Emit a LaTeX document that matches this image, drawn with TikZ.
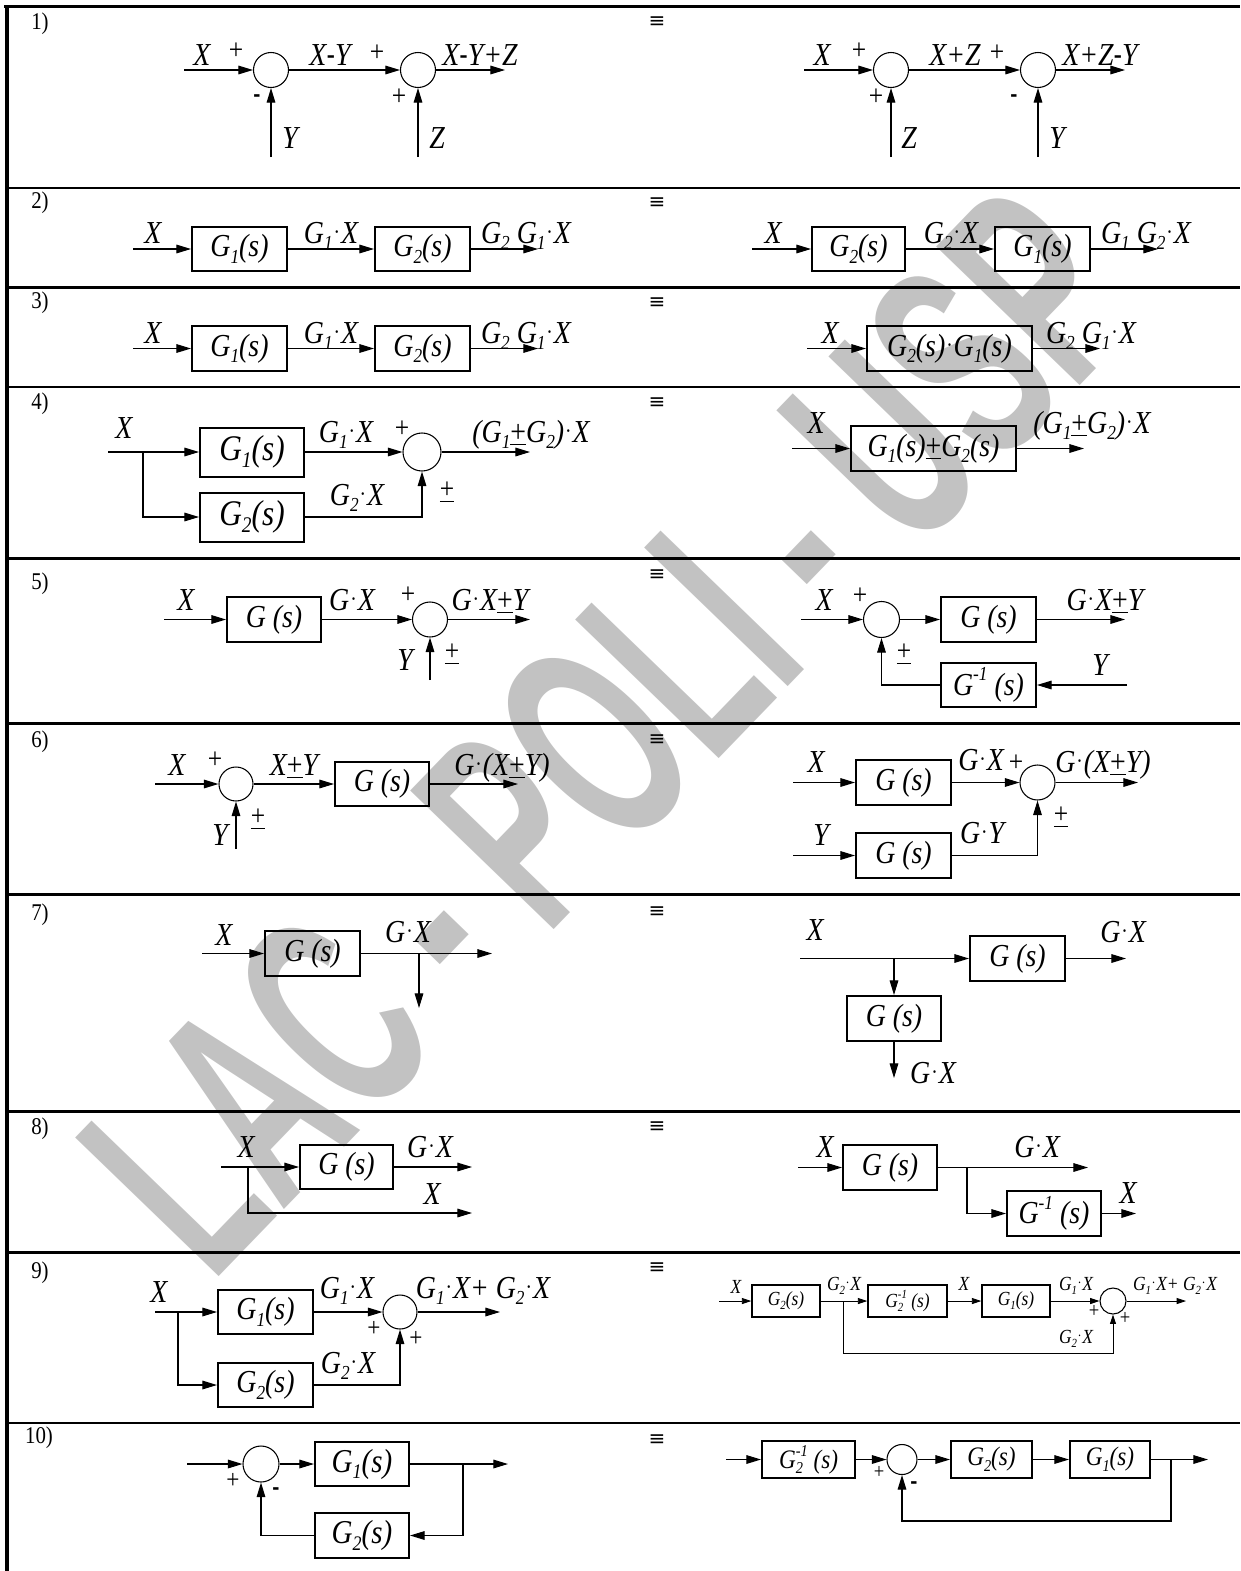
\documentclass[tikz,border=0pt]{standalone}
\usepackage{fontspec}
\setmainfont{Liberation Serif}[FakeStretch=0.87]
\setsansfont{Liberation Sans}
\newfontfamily\dejavu{DejaVu Sans}
\newfontfamily\wmfont{Liberation Sans}
\usetikzlibrary{arrows.meta}
\newcommand\fs[1]{\fontsize{#1}{#1}\selectfont}
\newcommand\Sd[1]{\raisebox{-0.2em}{\scalebox{0.62}{#1}}}
\newcommand\Su[1]{\raisebox{0.45em}{\scalebox{0.62}{#1}}}
\newcommand\SdSu[2]{\rlap{\Sd{#1}}\Su{#2}}
\newcommand\Dt{\kern0.03em\raisebox{0.12em}{\scalebox{0.7}{\upshape ·}}\kern0.03em}
\newcommand\Pm{\underline{\upshape +}}
\newcommand\Hy{\scalebox{0.8}[1]{\sffamily\upshape -}}
\tikzset{
 lb/.style={anchor=base, inner sep=0pt, font=\fs{24}\itshape},
 lbs/.style={anchor=base, inner sep=0pt, font=\fs{15}\itshape},
 sg/.style={anchor=center, inner sep=0pt, font=\fs{22}\upshape},
 sgs/.style={anchor=center, inner sep=0pt, font=\fs{16}\upshape},
 mn/.style={anchor=center, inner sep=0pt, font=\fs{16}\sffamily\bfseries},
 num/.style={anchor=center, inner sep=0pt, font=\fs{18}\upshape},
 eqv/.style={anchor=center, inner sep=0pt, font=\fs{15}\dejavu},
 bx/.style 2 args={draw, line width=1.5pt, minimum width=#1*0.75pt, minimum height=#2*0.75pt, inner sep=0pt, font=\fs{24}\itshape},
 sum/.style={circle, draw, line width=0.8pt, minimum size=#1*1.5pt, inner sep=0pt},
 arr/.style={line width=0.8pt, -{Triangle[length=11pt,width=6.5pt]}},
 arrs/.style={line width=0.6pt, -{Triangle[length=7pt,width=4.5pt]}},
 ln/.style={line width=0.8pt},
 rule/.style={line width=1.9pt},
}
\begin{document}
\begin{tikzpicture}[x=0.75pt,y=-0.75pt]
\useasboundingbox (0,0) rectangle (1240,1571);
% watermark
\node[rotate=46, text=black!24, font=\fs{150}\wmfont\bfseries, inner sep=0pt] (wm) at (608,730) {\scalebox{0.82}[1.45]{LAC - POLI - USP}};
% table
\draw[line width=2.4pt] (4,6.5) -- (1240,6.5);
\draw[line width=3pt] (6.5,5) -- (6.5,1571);
\foreach \yy in {188,287.5,387,558.5,723.5,894.5,1111.5,1252.5,1423}
  \draw[rule] (6.5,\yy) -- (1240,\yy);
% numbers and equivalences
\node[num] (n1) at (40,24) {1)};
\node[num] (n2) at (40,203) {2)};
\node[num] (n3) at (40,303) {3)};
\node[num] (n4) at (40,404) {4)};
\node[num] (n5) at (40,584) {5)};
\node[num] (n6) at (40,742) {6)};
\node[num] (n7) at (40,915) {7)};
\node[num] (n8) at (40,1129) {8)};
\node[num] (n9) at (40,1273) {9)};
\node[num] (n10) at (39,1438) {10)};
\foreach \yy/\nm in {22/e1,203/e2,303/e3,403/e4,575/e5,740/e6,912/e7,1127/e8,1268/e9,1440/e10}
  \node[eqv] (\nm) at (657,\yy) {≡};

% ---------- 1) ----------
\node[sum=17.5] (s1a) at (271,70) {};
\node[sum=17.5] (s1b) at (418,70) {};
\coordinate (i1a) at (184,70); \coordinate (o1a) at (505,70);
\coordinate (y1a) at (271,157); \coordinate (z1a) at (418,157);
\draw[arr] (i1a) -- (s1a);
\draw[arr] (s1a) -- (s1b);
\draw[arr] (s1b) -- (o1a);
\draw[arr] (y1a) -- (s1a);
\draw[arr] (z1a) -- (s1b);
\node[lb] (t1a) at (202,65) {X};
\node[sg] (p1a) at (236,51) {+};
\node[lb] (t1b) at (330,65) {X\Hy Y};
\node[sg] (p1b) at (377,53) {+};
\node[lb] (t1c) at (480,65) {X\Hy Y+Z};
\node[mn] (m1a) at (257,98) {-};
\node[lb] (t1d) at (290,148) {Y};
\node[sg] (p1c) at (399,97) {+};
\node[lb] (t1e) at (437,148) {Z};
\node[sum=17.5] (s1c) at (891,70) {};
\node[sum=17.5] (s1d) at (1038,70) {};
\coordinate (i1b) at (804,70); \coordinate (o1b) at (1125,70);
\coordinate (z1b) at (891,157); \coordinate (y1b) at (1038,157);
\draw[arr] (i1b) -- (s1c);
\draw[arr] (s1c) -- (s1d);
\draw[arr] (s1d) -- (o1b);
\draw[arr] (z1b) -- (s1c);
\draw[arr] (y1b) -- (s1d);
\node[lb] (t1f) at (822,65) {X};
\node[sg] (p1d) at (859,51) {+};
\node[lb] (t1g) at (955,65) {X+Z};
\node[sg] (p1e) at (997,53) {+};
\node[lb] (t1h) at (1100,65) {X+Z\Hy Y};
\node[sg] (p1f) at (876,97) {+};
\node[lb] (t1i) at (909,148) {Z};
\node[mn] (m1b) at (1014,98) {-};
\node[lb] (t1j) at (1057,148) {Y};

% ---------- 2) ----------
\node[bx={95}{44}] (a2) at (239.5,249) {G\Sd{1}(s)};
\node[bx={95}{44}] (b2) at (422.5,249) {G\Sd{2}(s)};
\coordinate (i2a) at (133,249); \coordinate (o2a) at (538,249);
\draw[arr] (i2a) -- (a2.west);
\draw[arr] (a2) -- (b2);
\draw[arr] (b2.east) -- (o2a);
\node[lb] (t2a) at (153,243) {X};
\node[lb] (t2b) at (331,243) {G\Sd{1}\Dt X};
\node[lb] (t2c) at (526,243) {G\Sd{2} G\Sd{1}\Dt X};
\node[bx={93}{44}] (c2) at (858.5,249) {G\Sd{2}(s)};
\node[bx={95}{44}] (d2) at (1042.5,249) {G\Sd{1}(s)};
\coordinate (i2b) at (752,249); \coordinate (o2b) at (1158,249);
\draw[arr] (i2b) -- (c2.west);
\draw[arr] (c2) -- (d2);
\draw[arr] (d2.east) -- (o2b);
\node[lb] (t2d) at (773,243) {X};
\node[lb] (t2e) at (951,243) {G\Sd{2}\Dt X};
\node[lb] (t2f) at (1146,243) {G\Sd{1} G\Sd{2}\Dt X};

% ---------- 3) ----------
\node[bx={95}{45}] (a3) at (239.5,348.5) {G\Sd{1}(s)};
\node[bx={95}{45}] (b3) at (422.5,348.5) {G\Sd{2}(s)};
\coordinate (i3a) at (133,348.5); \coordinate (o3a) at (538,348.5);
\draw[arr] (i3a) -- (a3.west);
\draw[arr] (a3) -- (b3);
\draw[arr] (b3.east) -- (o3a);
\node[lb] (t3a) at (153,343) {X};
\node[lb] (t3b) at (331,343) {G\Sd{1}\Dt X};
\node[lb] (t3c) at (526,343) {G\Sd{2} G\Sd{1}\Dt X};
\node[bx={165}{45}] (c3) at (949.5,348.5) {G\Sd{2}(s)\Dt G\Sd{1}(s)};
\coordinate (i3b) at (807,348.5); \coordinate (o3b) at (1100,348.5);
\draw[arr] (i3b) -- (c3.west);
\draw[arr] (c3.east) -- (o3b);
\node[lb] (t3d) at (830,343) {X};
\node[lb] (t3e) at (1091,343) {G\Sd{2} G\Sd{1}\Dt X};

% ---------- 4) ----------
\node[bx={104}{49}, font=\fs{27}\itshape] (a4) at (252,452) {G\Sd{1}(s)};
\node[bx={104}{49}, font=\fs{27}\itshape] (b4) at (252,517) {G\Sd{2}(s)};
\node[sum=19] (s4) at (422,452) {};
\coordinate (i4) at (108,452); \coordinate (j4) at (143,452); \coordinate (o4) at (530,452);
\draw[arr] (i4) -- (a4.west);
\draw[arr] (j4) |- (b4.west);
\draw[arr] (a4) -- (s4);
\draw[arr] (s4) -- (o4);
\draw[arr] (b4.east) -| (s4.south);
\node[lb] (t4a) at (124,438) {X};
\node[lb] (t4b) at (346,442) {G\Sd{1}\Dt X};
\node[sg] (p4a) at (402,429) {+};
\node[lb] (t4c) at (531,442) {(G\Sd{1}\Pm G\Sd{2})\Dt X};
\node[lb] (t4d) at (357,505) {G\Sd{2}\Dt X};
\node[sg] (p4b) at (447,492) {\Pm};
\node[bx={165}{45}] (c4) at (933.5,448.5) {G\Sd{1}(s)\Pm G\Sd{2}(s)};
\coordinate (i4b) at (792,448.5); \coordinate (o4b) at (1084,448.5);
\draw[arr] (i4b) -- (c4.west);
\draw[arr] (c4.east) -- (o4b);
\node[lb] (t4e) at (816,433) {X};
\node[lb] (t4f) at (1092,433) {(G\Sd{1}\Pm G\Sd{2})\Dt X};

% ---------- 5) ----------
\node[bx={94}{45}] (a5) at (274,619.5) {G (s)};
\node[sum=17.5] (s5a) at (430,619.5) {};
\coordinate (i5a) at (164,619.5); \coordinate (o5a) at (530,619.5); \coordinate (y5a) at (430,680);
\draw[arr] (i5a) -- (a5.west);
\draw[arr] (a5) -- (s5a);
\draw[arr] (s5a) -- (o5a);
\draw[arr] (y5a) -- (s5a);
\node[lb] (t5a) at (186,610) {X};
\node[lb] (t5b) at (352,610) {G\Dt X};
\node[sg] (p5a) at (408,595) {+};
\node[lb] (t5c) at (490,610) {G\Dt X\Pm Y};
\node[lb] (t5d) at (405,670) {Y};
\node[sg] (p5b) at (452,654) {\Pm};
\node[sum=18] (s5b) at (881.5,619.5) {};
\node[bx={95}{45}] (c5) at (988.5,619.5) {G (s)};
\node[bx={95}{44}] (d5) at (988.5,685) {G\Su{-1} (s)};
\coordinate (i5b) at (801,619.5); \coordinate (o5b) at (1125,619.5); \coordinate (y5b) at (1127,685);
\draw[arr] (i5b) -- (s5b);
\draw[arr] (s5b) -- (c5);
\draw[arr] (c5.east) -- (o5b);
\draw[arr] (y5b) -- (d5.east);
\draw[arr] (d5.west) -| (s5b.south);
\node[lb] (t5e) at (824,610) {X};
\node[sg] (p5c) at (860,596) {+};
\node[lb] (t5f) at (1105,610) {G\Dt X\Pm Y};
\node[lb] (t5g) at (1100,675) {Y};
\node[sg] (p5d) at (904,654) {\Pm};

% ---------- 6) ----------
\node[sum=17] (s6a) at (236,784) {};
\node[bx={94}{44}] (a6) at (382,784) {G (s)};
\coordinate (i6a) at (155,784); \coordinate (o6a) at (518,784); \coordinate (y6a) at (236,849);
\draw[arr] (i6a) -- (s6a);
\draw[arr] (s6a) -- (a6);
\draw[arr] (a6.east) -- (o6a);
\draw[arr] (y6a) -- (s6a);
\node[lb] (t6a) at (177,775) {X};
\node[sg] (p6a) at (215,760) {+};
\node[lb] (t6b) at (294,775) {X\Pm Y};
\node[lb] (t6c) at (502,775) {G\Dt(X\Pm Y)};
\node[lb] (t6d) at (220,845) {Y};
\node[sg] (p6b) at (258,819) {\Pm};
\node[bx={95}{45}] (c6) at (903.5,782.5) {G (s)};
\node[bx={95}{45}] (d6) at (903.5,855.5) {G (s)};
\node[sum=17.5] (s6b) at (1037.5,782.5) {};
\coordinate (i6b) at (793,782.5); \coordinate (i6c) at (793,855.5); \coordinate (o6b) at (1138,782.5);
\draw[arr] (i6b) -- (c6.west);
\draw[arr] (i6c) -- (d6.west);
\draw[arr] (c6) -- (s6b);
\draw[arr] (s6b) -- (o6b);
\draw[arr] (d6.east) -| (s6b.south);
\node[lb] (t6e) at (816,772) {X};
\node[lb] (t6f) at (981,770) {G\Dt X};
\node[sg] (p6c) at (1016,763) {+};
\node[lb] (t6g) at (1103,772) {G\Dt(X\Pm Y)};
\node[lb] (t6h) at (821,845) {Y};
\node[lb] (t6i) at (982,843) {G\Dt Y};
\node[sg] (p6d) at (1061,817) {\Pm};

% ---------- 7) ----------
\node[bx={95}{45}] (a7) at (312.5,953.5) {G (s)};
\coordinate (i7a) at (202,953.5); \coordinate (o7a) at (492,953.5);
\coordinate (j7a) at (419,953.5); \coordinate (e7a) at (419,1008);
\draw[arr] (i7a) -- (a7.west);
\draw[arr] (a7.east) -- (o7a);
\draw[arr] (j7a) -- (e7a);
\node[lb] (t7a) at (224,945) {X};
\node[lb] (t7b) at (408,942) {G\Dt X};
\node[bx={95}{45}] (c7) at (1017.5,958.5) {G (s)};
\node[bx={94}{45}] (d7) at (894,1018.5) {G (s)};
\coordinate (i7b) at (800,958.5); \coordinate (j7b) at (894,958.5);
\coordinate (o7b) at (1126,958.5); \coordinate (e7b) at (894,1078);
\draw[arr] (i7b) -- (c7.west);
\draw[arr] (c7.east) -- (o7b);
\draw[arr] (j7b) -- (d7.north);
\draw[arr] (d7.south) -- (e7b);
\node[lb] (t7c) at (815,940) {X};
\node[lb] (t7d) at (1123,942) {G\Dt X};
\node[lb] (t7e) at (933,1083) {G\Dt X};

% ---------- 8) ----------
\node[bx={93}{44}] (a8) at (346.5,1167) {G (s)};
\coordinate (i8a) at (221,1167); \coordinate (j8a) at (248,1167);
\coordinate (o8a) at (472,1167); \coordinate (o8b) at (472,1213);
\draw[arr] (i8a) -- (a8.west);
\draw[arr] (a8.east) -- (o8a);
\draw[arr] (j8a) |- (o8b);
\node[lb] (t8a) at (246,1157) {X};
\node[lb] (t8b) at (430,1157) {G\Dt X};
\node[lb] (t8c) at (432,1204) {X};
\node[bx={94}{45}] (c8) at (890,1167.5) {G (s)};
\node[bx={94}{45}] (d8) at (1054,1213.5) {G\Su{-1} (s)};
\coordinate (i8b) at (798,1167.5); \coordinate (j8b) at (967,1167.5);
\coordinate (o8c) at (1088,1167.5); \coordinate (o8d) at (1136,1213.5);
\draw[arr] (i8b) -- (c8.west);
\draw[arr] (c8.east) -- (o8c);
\draw[arr] (j8b) |- (d8.west);
\draw[arr] (d8.east) -- (o8d);
\node[lb] (t8d) at (825,1157) {X};
\node[lb] (t8e) at (1037,1157) {G\Dt X};
\node[lb] (t8f) at (1128,1203) {X};

% ---------- 9) ----------
\node[bx={95}{44}] (a9) at (265.5,1312) {G\Sd{1}(s)};
\node[bx={95}{44}] (b9) at (265.5,1385) {G\Sd{2}(s)};
\node[sum=17] (s9a) at (400,1312) {};
\coordinate (i9a) at (155,1312); \coordinate (j9a) at (178,1312); \coordinate (o9a) at (500,1312);
\draw[arr] (i9a) -- (a9.west);
\draw[arr] (j9a) |- (b9.west);
\draw[arr] (a9) -- (s9a);
\draw[arr] (s9a) -- (o9a);
\draw[arr] (b9.east) -| (s9a.south);
\node[lb] (t9a) at (159,1302) {X};
\node[lb] (t9b) at (347,1298) {G\Sd{1}\Dt X};
\node[sg, font=\fs{20}\upshape] (p9a) at (374,1329) {+};
\node[sg, font=\fs{20}\upshape] (p9b) at (416,1339) {+};
\node[lb] (t9c) at (483,1298) {G\Sd{1}\Dt X+ G\Sd{2}\Dt X};
\node[lb] (t9d) at (348,1373) {G\Sd{2}\Dt X};
\node[bx={68}{32}, line width=1.1pt, font=\fs{15}\itshape] (c9) at (786,1301) {G\Sd{2}(s)};
\node[bx={79}{32}, line width=1.1pt, font=\fs{15}\itshape] (d9) at (907.5,1301) {G\SdSu{2}{-1} (s)};
\node[bx={68}{32}, line width=1.1pt, font=\fs{15}\itshape] (e9) at (1016,1301) {G\Sd{1}(s)};
\node[sum=13] (s9b) at (1113,1301) {};
\coordinate (i9b) at (719,1301); \coordinate (j9b) at (843,1301);
\coordinate (k9b) at (1113,1353); \coordinate (o9b) at (1186,1301);
\draw[arrs] (i9b) -- (c9.west);
\draw[arrs] (c9) -- (d9);
\draw[arrs] (d9) -- (e9);
\draw[arrs] (e9) -- (s9b);
\draw[arrs] (s9b) -- (o9b);
\draw[arrs] (j9b) |- (k9b) -- (s9b.south);
\node[lbs] (t9e) at (736,1293) {X};
\node[lbs] (t9f) at (844,1290) {G\Sd{2}\Dt X};
\node[lbs] (t9g) at (964,1290) {X};
\node[lbs] (t9h) at (1076,1290) {G\Sd{1}\Dt X};
\node[lbs] (t9i) at (1175,1290) {G\Sd{1}\Dt X+ G\Sd{2}\Dt X};
\node[sgs] (p9c) at (1094,1311) {+};
\node[sgs] (p9d) at (1125,1318) {+};
\node[lbs] (t9j) at (1076,1343) {G\Sd{2}\Dt X};

% ---------- 10) ----------
\node[sum=18] (s10a) at (261,1464) {};
\node[bx={94}{44}, font=\fs{25}\itshape] (a10) at (362,1464) {G\Sd{1}(s)};
\node[bx={94}{45}, font=\fs{25}\itshape] (b10) at (362,1535.5) {G\Sd{2}(s)};
\coordinate (i10a) at (187,1464); \coordinate (j10a) at (463,1464);
\coordinate (k10a) at (463,1535.5); \coordinate (o10a) at (508,1464);
\draw[arr] (i10a) -- (s10a);
\draw[arr] (s10a) -- (a10);
\draw[arr] (a10.east) -- (o10a);
\draw[arr] (j10a) -- (k10a) -- (b10.east);
\draw[arr] (b10.west) -| (s10a.south);
\node[sg, font=\fs{20}\upshape] (p10a) at (233,1481) {+};
\node[mn] (m10a) at (276,1491) {-};
\node[bx={93}{37}, font=\fs{20}\itshape] (c10) at (808.5,1459.5) {G\SdSu{2}{-1} (s)};
\node[sum=15] (s10b) at (902,1459.5) {};
\node[bx={81}{37}, font=\fs{20}\itshape] (d10) at (991.5,1459.5) {G\Sd{2}(s)};
\node[bx={80}{37}, font=\fs{20}\itshape] (e10) at (1110,1459.5) {G\Sd{1}(s)};
\coordinate (i10b) at (726,1459.5); \coordinate (j10b) at (1171,1459.5);
\coordinate (k10b) at (1171,1521); \coordinate (o10b) at (1208,1459.5);
\draw[arr] (i10b) -- (c10.west);
\draw[arr] (c10) -- (s10b);
\draw[arr] (s10b) -- (d10);
\draw[arr] (d10) -- (e10);
\draw[arr] (e10.east) -- (o10b);
\draw[arr] (j10b) -- (k10b) -| (s10b.south);
\node[sgs] (p10b) at (879,1472) {+};
\node[mn] (m10b) at (914,1485) {-};
\end{tikzpicture}
\end{document}
